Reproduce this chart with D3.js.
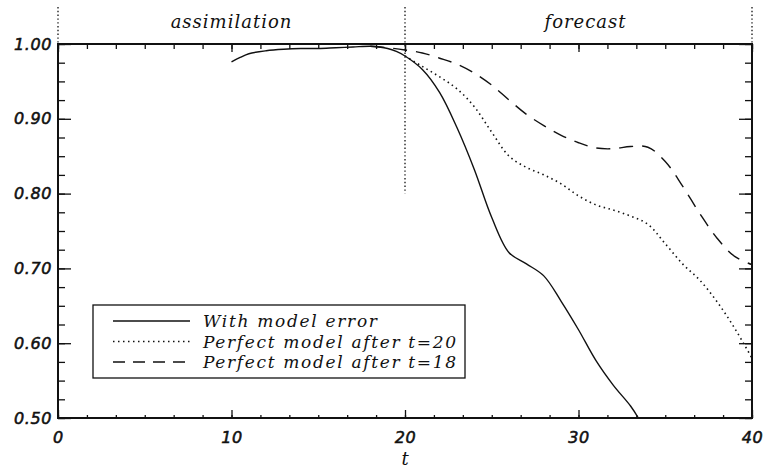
<!DOCTYPE html>
<html>
<head>
<meta charset="utf-8">
<script src="https://cdn.jsdelivr.net/npm/d3@7"></script>
<style>
body { margin: 0; background: #fff; }
.num { font-family: "DejaVu Sans"; font-style: oblique; font-size: 16px; letter-spacing: 0.6px; fill: #111; stroke: #111; stroke-width: 0.55px; }
.lab { font-family: "DejaVu Serif"; font-style: italic; fill: #111; }
</style>
</head>
<body>
<div id="chart"></div>
<script>
// t values and correlation curves
const t_model = [10, 10.5, 11, 12, 13, 14, 15, 16, 17, 18, 18.5, 19, 19.5, 20, 21, 22, 23, 24, 25, 26, 27, 28, 29, 30, 31, 32, 33, 33.45]
const v_model = [0.976, 0.982, 0.987, 0.991, 0.993, 0.994, 0.994, 0.995, 0.996, 0.997, 0.996, 0.994, 0.990, 0.984, 0.966, 0.935, 0.888, 0.832, 0.768, 0.721, 0.706, 0.690, 0.656, 0.618, 0.577, 0.544, 0.516, 0.500]
const t_perf20 = [20, 21, 22, 23, 24, 25, 26, 27, 28, 29, 30, 31, 32, 33, 34, 35, 36, 37, 38, 39, 40]
const v_perf20 = [0.984, 0.970, 0.956, 0.940, 0.916, 0.882, 0.850, 0.835, 0.825, 0.813, 0.797, 0.785, 0.778, 0.770, 0.759, 0.733, 0.706, 0.684, 0.655, 0.620, 0.580]
const t_perf18 = [18, 19, 20, 21, 22, 23, 24, 25, 26, 27, 28, 29, 30, 31, 32, 33, 34, 35, 36, 37, 38, 39, 40]
const v_perf18 = [0.997, 0.995, 0.992, 0.988, 0.981, 0.973, 0.961, 0.945, 0.925, 0.906, 0.891, 0.878, 0.868, 0.861, 0.860, 0.863, 0.862, 0.843, 0.810, 0.773, 0.740, 0.716, 0.705]
const x_ticks = [0, 10, 20, 30, 40]
const y_ticks = [0.5, 0.6, 0.7, 0.8, 0.9, 1.0]
const legend_names = ["With model error", "Perfect model after t=20", "Perfect model after t=18"]

const width = 764, height = 470
const margin = {top: 44, right: 10, bottom: 52, left: 58}

var svg = d3.select("#chart").append("svg")
    .attr("width", width)
    .attr("height", height)
svg.append("rect").attr("width", width).attr("height", height).attr("fill", "#fff")

var x = d3.scaleLinear().domain([0, 40]).range([margin.left, width - margin.right - 2])
var y = d3.scaleLinear().domain([0.5, 1.0]).range([height - margin.bottom, margin.top])

// minor tick positions (6 per 10 on t, 4 per 0.1 on y)
var x_minor = d3.range(0, 40.001, 10 / 6)
var y_minor = d3.range(0.5, 1.0001, 0.025)

function axis_group(ax, tx, ty) {
  let g = svg.append("g").attr("transform", "translate(" + tx + "," + ty + ")").call(ax)
  g.select(".domain").remove()
  g.selectAll("line").attr("stroke", "#111").attr("stroke-width", 1.3)
  return g
}

// bottom
axis_group(d3.axisBottom(x).tickValues(x_minor).tickSize(-3).tickFormat(""), 0, y(0.5))
var gb = axis_group(d3.axisBottom(x).tickValues(x_ticks).tickSize(-8).tickPadding(14).tickFormat(d3.format("d")), 0, y(0.5))
gb.selectAll("text").attr("class", "num").attr("font-size", null).attr("font-family", null)
// top
axis_group(d3.axisTop(x).tickValues(x_minor).tickSize(-5).tickFormat(""), 0, y(1.0))
axis_group(d3.axisTop(x).tickValues(x_ticks).tickSize(-8).tickFormat(""), 0, y(1.0))
// left
axis_group(d3.axisLeft(y).tickValues(y_minor).tickSize(-7).tickFormat(""), x(0), 0)
var gl = axis_group(d3.axisLeft(y).tickValues(y_ticks).tickSize(-13).tickPadding(6).tickFormat(d3.format(".2f")), x(0), 0)
gl.selectAll("text").attr("class", "num").attr("font-size", null).attr("font-family", null)
// right
axis_group(d3.axisRight(y).tickValues(y_minor).tickSize(-7).tickFormat(""), x(40), 0)
axis_group(d3.axisRight(y).tickValues(y_ticks).tickSize(-13).tickFormat(""), x(40), 0)

// frame
svg.append("rect")
    .attr("x", x(0)).attr("y", y(1.0))
    .attr("width", x(40) - x(0)).attr("height", y(0.5) - y(1.0))
    .attr("fill", "none").attr("stroke", "#111").attr("stroke-width", 2)

// vertical dotted separators
function vdots(t, v_end) {
  svg.append("line")
      .attr("x1", x(t)).attr("x2", x(t))
      .attr("y1", 7).attr("y2", y(v_end))
      .attr("stroke", "#222").attr("stroke-width", 1.4)
      .attr("stroke-dasharray", "1.4,2.4")
}
vdots(0, 1.0)
vdots(20, 0.8)
vdots(40, 1.0)

svg.append("text").attr("class", "lab").attr("font-size", 18).attr("letter-spacing", 1)
    .attr("x", (x(0) + x(20)) / 2).attr("y", 28).attr("text-anchor", "middle").text("assimilation")
svg.append("text").attr("class", "lab").attr("font-size", 18).attr("letter-spacing", 1)
    .attr("x", (x(20) + x(40)) / 2 + 7).attr("y", 28).attr("text-anchor", "middle").text("forecast")
svg.append("text").attr("class", "lab").attr("font-size", 18)
    .attr("x", x(20)).attr("y", 465).attr("text-anchor", "middle").text("t")

// curves
svg.append("clipPath").attr("id", "clip").append("rect")
    .attr("x", x(0)).attr("y", y(1.0)).attr("width", x(40) - x(0)).attr("height", y(0.5) - y(1.0))

var line = d3.line()
    .x(function(d) { return x(d[0]) })
    .y(function(d) { return y(d[1]) })
    .curve(d3.curveCatmullRom.alpha(0.5))

const styles = [
  {dash: null, w: 1.4},
  {dash: "1.5,3.5", w: 1.6},
  {dash: "14,9", w: 1.4}
]
const series = [
  d3.zip(t_model, v_model),
  d3.zip(t_perf20, v_perf20),
  d3.zip(t_perf18, v_perf18)
]
var plot = svg.append("g").attr("clip-path", "url(#clip)")
for (let i = 0; i < series.length; i++) {
  plot.append("path")
      .datum(series[i])
      .attr("d", line)
      .attr("fill", "none")
      .attr("stroke", "#111")
      .attr("stroke-width", styles[i].w)
      .attr("stroke-dasharray", styles[i].dash)
}

// legend
var lg = svg.append("g")
lg.append("rect").attr("x", 93).attr("y", 305).attr("width", 372).attr("height", 73)
    .attr("fill", "#fff").attr("stroke", "#111").attr("stroke-width", 1.3)
const text_w = [174, 253, 253]
for (let i = 0; i < legend_names.length; i++) {
  let yy = 321 + i * 20.5
  lg.append("line").attr("x1", 113).attr("x2", 190).attr("y1", yy).attr("y2", yy)
      .attr("stroke", "#111").attr("stroke-width", styles[i].w)
      .attr("stroke-dasharray", i == 2 ? "12,8" : styles[i].dash)
  lg.append("text").attr("class", "lab").attr("font-size", 17)
      .attr("x", 203).attr("y", yy + 6)
      .attr("textLength", text_w[i]).attr("lengthAdjust", "spacing")
      .text(legend_names[i])
}
</script>
</body>
</html>
